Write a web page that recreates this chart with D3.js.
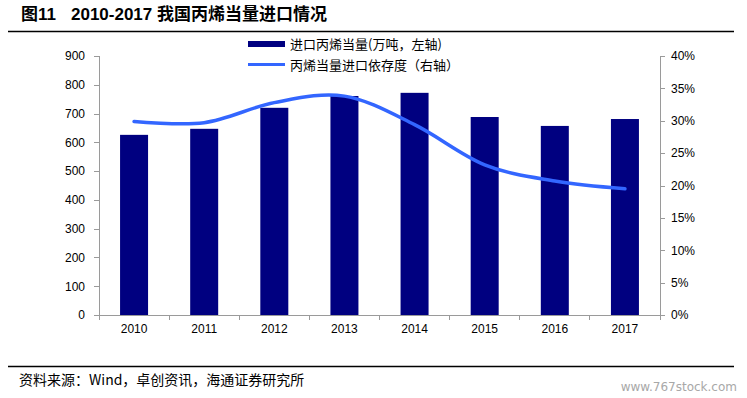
<!DOCTYPE html>
<html lang="zh">
<head>
  <meta charset="UTF-8">
  <title>2010-2017 我国丙烯当量进口情况</title>
  <script src="https://d3js.org/d3.v7.min.js"></script>
  <style>
    body { margin: 0; background: #fff; }
    svg { display: block; }
    .axis path, .axis line { fill: none; stroke: #9a9a9a; shape-rendering: crispEdges; }
    .axis text { font-family: "Liberation Sans", Arial, sans-serif; font-size: 12px; fill: #000; }
    .cjk { font-family: "Noto Sans CJK SC", sans-serif; }
  </style>
</head>
<body>
  <svg width="747" height="398"></svg>

  <script>
    const years      = ["2010", "2011", "2012", "2013", "2014", "2015", "2016", "2017"];
    const importVol  = [626, 647, 720, 761, 772, 688, 657, 681];          // 万吨
    const dependence = [0.299, 0.297, 0.328, 0.338, 0.294, 0.232, 0.207, 0.195];
    const leftTicks  = [0, 100, 200, 300, 400, 500, 600, 700, 800, 900];
    const rightTicks = [0, 0.05, 0.10, 0.15, 0.20, 0.25, 0.30, 0.35, 0.40];

    const svg = d3.select("svg");
    const plot = { left: 99, right: 660, top: 56, bottom: 315 };

    // title + rules
    const latin = "'Liberation Sans', Arial, sans-serif";
    const title = svg.append("text")
       .attr("x", 21).attr("y", 20)
       .style("font-size", "17px").style("font-weight", "bold");
    title.append("tspan").attr("class", "cjk").text("图");
    title.append("tspan").style("font-family", latin).text("11");
    title.append("tspan").attr("dx", 15).style("font-family", latin).text("2010-2017 ");
    title.append("tspan").attr("class", "cjk").text("我国丙烯当量进口情况");

    svg.append("line").attr("x1", 8).attr("x2", 734).attr("y1", 31.5).attr("y2", 31.5)
       .attr("stroke", "#000").attr("stroke-width", 1.5);
    svg.append("line").attr("x1", 8).attr("x2", 734).attr("y1", 366.5).attr("y2", 366.5)
       .attr("stroke", "#000").attr("stroke-width", 1.5);

    const xb = d3.scaleBand().domain(years).range([plot.left, plot.right]);
    const yL = d3.scaleLinear().domain([0, 900]).range([plot.bottom, plot.top]);
    const yR = d3.scaleLinear().domain([0, 0.4]).range([plot.bottom, plot.top]);
    const cx = d => xb(d) + xb.bandwidth() / 2;

    // bars
    svg.append("g").selectAll("rect")
       .data(years)
       .join("rect")
         .attr("x", d => cx(d) - 14)
         .attr("width", 28)
         .attr("y", (d, i) => yL(importVol[i]))
         .attr("height", (d, i) => yL(0) - yL(importVol[i]))
         .attr("fill", "#000080");

    // axes
    svg.append("g").attr("class", "axis")
       .attr("transform", `translate(${plot.left},0)`)
       .call(d3.axisLeft(yL).tickValues(leftTicks).tickSize(5).tickPadding(9))
       .call(g => g.select(".domain").attr("d", `M0,${plot.top}V${plot.bottom}`));

    svg.append("g").attr("class", "axis")
       .attr("transform", `translate(${plot.right},0)`)
       .call(d3.axisRight(yR).tickValues(rightTicks).tickSize(5).tickPadding(6).tickFormat(d3.format(".0%")))
       .call(g => g.select(".domain").attr("d", `M0,${plot.top}V${plot.bottom}`));

    const xAxis = svg.append("g").attr("class", "axis")
       .attr("transform", `translate(0,${plot.bottom})`);
    xAxis.append("path").attr("d", `M${plot.left},0H${plot.right}`);
    xAxis.selectAll("line")
       .data(years.concat(["end"]))
       .join("line")
         .attr("x1", (d, i) => i < years.length ? xb(d) : plot.right)
         .attr("x2", (d, i) => i < years.length ? xb(d) : plot.right)
         .attr("y1", 0).attr("y2", 5);
    xAxis.selectAll("text")
       .data(years)
       .join("text")
         .attr("x", cx)
         .attr("y", 18)
         .attr("text-anchor", "middle")
         .text(d => d);

    // dependence line
    const line = d3.line()
       .x((d, i) => cx(years[i]))
       .y(d => yR(d))
       .curve(d3.curveCardinal.tension(0));
    svg.append("path")
       .datum(dependence)
       .attr("d", line)
       .attr("fill", "none")
       .attr("stroke", "#3366ff")
       .attr("stroke-width", 3.5)
       .attr("stroke-linecap", "round");

    // legend
    const legend = svg.append("g").attr("class", "cjk").style("font-size", "13px");
    legend.append("rect").attr("x", 248).attr("y", 41).attr("width", 37).attr("height", 6).attr("fill", "#000080");
    legend.append("text").attr("x", 290).attr("y", 48.5).text("进口丙烯当量(万吨，左轴)");
    legend.append("line").attr("x1", 248).attr("x2", 285).attr("y1", 64.5).attr("y2", 64.5)
       .attr("stroke", "#3366ff").attr("stroke-width", 3);
    legend.append("text").attr("x", 290).attr("y", 69.5).text("丙烯当量进口依存度（右轴）");

    // source + watermark
    svg.append("text").attr("class", "cjk")
       .attr("x", 19).attr("y", 385)
       .style("font-size", "14px")
       .text("资料来源：Wind，卓创资讯，海通证券研究所");
    svg.append("text")
       .attr("x", 737).attr("y", 391)
       .attr("text-anchor", "end")
       .style("font-family", "'DejaVu Sans', sans-serif")
       .style("font-size", "12px")
       .attr("fill", "#a8a8a8")
       .text("www.767stock.com");
  </script>
</body>
</html>
